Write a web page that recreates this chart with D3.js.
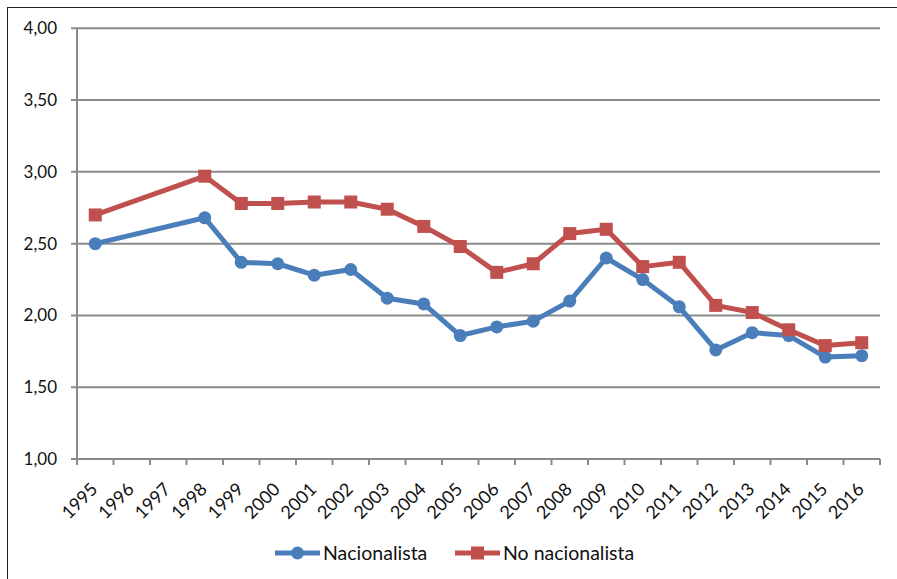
<!DOCTYPE html>
<html lang="es">
<head>
<meta charset="UTF-8">
<title>Nacionalista / No nacionalista</title>
<script src="https://d3js.org/d3.v7.min.js"></script>
<style>
  body { margin: 0; background: #fff; }
  svg { display: block; font-family: Lato, "Open Sans", sans-serif; }
</style>
</head>
<body>
<script>
// years on the category axis (1996 and 1997 have no data)
const years = ["1995","1996","1997","1998","1999","2000","2001","2002","2003","2004","2005",
               "2006","2007","2008","2009","2010","2011","2012","2013","2014","2015","2016"];
const nacionalista = [2.50, null, null, 2.68, 2.37, 2.36, 2.28, 2.32, 2.12, 2.08, 1.86,
                      1.92, 1.96, 2.10, 2.40, 2.25, 2.06, 1.76, 1.88, 1.86, 1.71, 1.72];
const noNacionalista = [2.70, null, null, 2.97, 2.78, 2.78, 2.79, 2.79, 2.74, 2.62, 2.48,
                        2.30, 2.36, 2.57, 2.60, 2.34, 2.37, 2.07, 2.02, 1.90, 1.79, 1.81];
const yTicks = [1, 1.5, 2, 2.5, 3, 3.5, 4];

const W = 897, H = 579;
const plotL = 77, plotR = 880, plotT = 28.3, plotB = 459;

const svg = d3.select("body").append("svg")
    .attr("width", W).attr("height", H);

// outer frame (only top and left edges show in the picture)
svg.append("rect")
    .attr("x", 7.5).attr("y", 7.5)
    .attr("width", W + 10).attr("height", H + 10)
    .attr("fill", "none").attr("stroke", "#222").attr("stroke-width", 1);

const x = d3.scaleBand().domain(years).range([plotL, plotR]);
const y = d3.scaleLinear().domain([1, 4]).range([plotB, plotT]);

const fmt = v => d3.format(".2f")(v).replace(".", ",");

// horizontal gridlines
svg.append("g").selectAll("line")
  .data(yTicks)
  .join("line")
    .attr("x1", plotL - 6).attr("x2", plotR)
    .attr("y1", d => y(d)).attr("y2", d => y(d))
    .attr("stroke", "#8a8a8a").attr("stroke-width", 2);

// y labels
svg.append("g").selectAll("text")
  .data(yTicks)
  .join("text")
    .attr("x", plotL - 20).attr("y", d => y(d))
    .attr("dy", "0.35em")
    .attr("text-anchor", "end")
    .attr("font-size", 17)
    .attr("fill", "#111")
    .text(fmt);

// y axis line
svg.append("line")
  .attr("x1", plotL).attr("x2", plotL)
  .attr("y1", plotT).attr("y2", plotB + 6)
  .attr("stroke", "#8a8a8a").attr("stroke-width", 2);

// x ticks at band edges
const edges = years.map(d => x(d)).concat([plotR]);
svg.append("g").selectAll("line")
  .data(edges)
  .join("line")
    .attr("x1", d => d).attr("x2", d => d)
    .attr("y1", plotB).attr("y2", plotB + 6)
    .attr("stroke", "#8a8a8a").attr("stroke-width", 2);

// x labels, rotated
svg.append("g").selectAll("text")
  .data(years)
  .join("text")
    .attr("transform", d => `translate(${x(d) + x.bandwidth() / 2 - 1},${plotB + 27}) rotate(-45)`)
    .attr("text-anchor", "end")
    .attr("dy", "0.35em")
    .attr("font-size", 18)
    .attr("fill", "#111")
    .text(d => d);

const series = [
  { name: "Nacionalista", values: nacionalista, color: "#4a7ebb", shape: "circle" },
  { name: "No nacionalista", values: noNacionalista, color: "#c0504d", shape: "square" }
];

const line = d3.line()
    .x(d => x(d.year) + x.bandwidth() / 2)
    .y(d => y(d.value));

series.forEach(s => {
  const pts = years.map((yr, i) => ({ year: yr, value: s.values[i] }))
                   .filter(d => d.value != null);
  svg.append("path")
    .datum(pts)
    .attr("d", line)
    .attr("fill", "none")
    .attr("stroke", s.color)
    .attr("stroke-width", 5)
    .attr("stroke-linejoin", "round");

  const g = svg.append("g").attr("fill", s.color);
  if (s.shape === "circle") {
    g.selectAll("circle").data(pts).join("circle")
      .attr("cx", d => x(d.year) + x.bandwidth() / 2)
      .attr("cy", d => y(d.value))
      .attr("r", 6.5);
  } else {
    g.selectAll("rect").data(pts).join("rect")
      .attr("x", d => x(d.year) + x.bandwidth() / 2 - 6.5)
      .attr("y", d => y(d.value) - 6.5)
      .attr("width", 13).attr("height", 13);
  }
});

// legend
const legend = [
  { s: series[0], x0: 275 },
  { s: series[1], x0: 455 }
];
const ly = 553;
legend.forEach(({ s, x0 }) => {
  svg.append("line")
    .attr("x1", x0).attr("x2", x0 + 45)
    .attr("y1", ly).attr("y2", ly)
    .attr("stroke", s.color).attr("stroke-width", 5);
  if (s.shape === "circle") {
    svg.append("circle").attr("cx", x0 + 22.5).attr("cy", ly).attr("r", 6.5).attr("fill", s.color);
  } else {
    svg.append("rect").attr("x", x0 + 16).attr("y", ly - 6.5)
      .attr("width", 13).attr("height", 13).attr("fill", s.color);
  }
  svg.append("text")
    .attr("x", x0 + 48).attr("y", ly)
    .attr("dy", "0.35em")
    .attr("font-size", 19.5)
    .attr("fill", "#111")
    .text(s.name);
});
</script>
</body>
</html>
